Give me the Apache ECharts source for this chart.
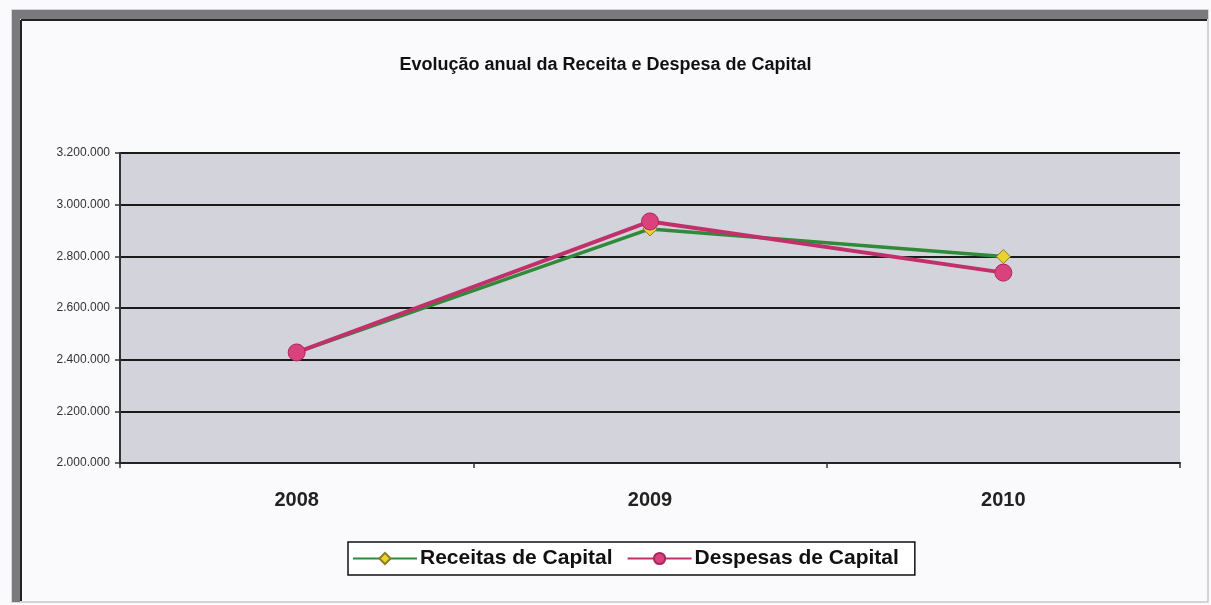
<!DOCTYPE html>
<html>
<head>
<meta charset="utf-8">
<script src="https://cdn.jsdelivr.net/npm/echarts@6/dist/echarts.min.js"></script>
<style>
  html, body { margin: 0; padding: 0; background: #fafafc; }
  #chart { width: 1211px; height: 605px; }
</style>
</head>
<body>
<div id="chart"></div>
<script>
// dados
const years = ['2008', '2009', '2010']
const receitas = [2428000, 2906000, 2799000]
const despesas = [2428000, 2935000, 2737000]
const yTicks = [2000000, 2200000, 2400000, 2600000, 2800000, 3000000, 3200000]

function fmt(v) {
  return String(v).replace(/\B(?=(\d{3})+(?!\d))/g, '.')
}

const chart = echarts.init(document.getElementById('chart'))

chart.setOption({
  backgroundColor: '#fafafc',
  animation: false,
  textStyle: { fontFamily: 'Liberation Sans, Arial, sans-serif' },
  title: {
    text: 'Evolução anual da Receita e Despesa de Capital',
    left: 'center',
    top: 51,
    textStyle: { fontSize: 18, fontWeight: 'bold', color: '#111' }
  },
  // moldura do gráfico
  graphic: [
    { type: 'rect', shape: { x: 12, y: 10, width: 1196, height: 592 },
      style: { fill: 'none', stroke: '#c8c8cc', lineWidth: 1.5 }, z: -1 },
    { type: 'rect', shape: { x: 12, y: 10, width: 8, height: 592 },
      style: { fill: '#7a7a7e' }, z: -1 },
    { type: 'rect', shape: { x: 12, y: 10, width: 1196, height: 9 },
      style: { fill: '#7a7a7e' }, z: -1 },
    { type: 'line', shape: { x1: 21, y1: 20, x2: 1207, y2: 20 },
      style: { stroke: '#222', lineWidth: 2 }, z: -1 },
    { type: 'line', shape: { x1: 21, y1: 20, x2: 21, y2: 601 },
      style: { stroke: '#222', lineWidth: 2 }, z: -1 }
  ],
  grid: {
    left: 120, right: 31, top: 153, bottom: 142,
    show: true,
    backgroundColor: '#d3d3db',
    borderWidth: 0
  },
  legend: {
    left: 348,
    top: 542,
    orient: 'horizontal',
    itemWidth: 64,
    itemHeight: 14,
    itemGap: 14,
    padding: [6, 16, 6, 4],
    borderColor: '#111',
    borderWidth: 1.5,
    backgroundColor: '#fff',
    textStyle: { fontSize: 21, fontWeight: 'bold', color: '#111', padding: [0, 0, 0, -2] },
    data: ['Receitas de Capital', 'Despesas de Capital']
  },
  xAxis: {
    type: 'category',
    data: years,
    boundaryGap: true,
    axisLine: { lineStyle: { color: '#222', width: 2 } },
    axisTick: { show: true, length: 5, lineStyle: { color: '#333', width: 1.5 } },
    axisLabel: { fontSize: 20, fontWeight: 'bold', color: '#222', margin: 27 },
    splitLine: { show: false }
  },
  yAxis: {
    type: 'value',
    min: yTicks[0],
    max: yTicks[yTicks.length - 1],
    interval: yTicks[1] - yTicks[0],
    axisLine: { show: true, lineStyle: { color: '#333', width: 2 } },
    axisTick: { show: true, length: 5, lineStyle: { color: '#333', width: 1.5 } },
    axisLabel: { fontSize: 12, color: '#333', margin: 10, formatter: fmt },
    splitLine: { show: true, lineStyle: { color: '#1a1a1a', width: 2 } }
  },
  series: [
    {
      name: 'Receitas de Capital',
      type: 'line',
      data: receitas,
      symbol: 'diamond',
      symbolSize: 14,
      lineStyle: { color: '#2f8a3a', width: 3.5 },
      itemStyle: { color: '#e9d330', borderColor: '#8a7c24', borderWidth: 1 },
      z: 2
    },
    {
      name: 'Despesas de Capital',
      type: 'line',
      data: despesas,
      symbol: 'circle',
      symbolSize: 17,
      lineStyle: { color: '#c2306c', width: 4 },
      itemStyle: { color: '#d9427f', borderColor: '#a8285a', borderWidth: 1 },
      z: 3
    }
  ]
})
</script>
</body>
</html>
